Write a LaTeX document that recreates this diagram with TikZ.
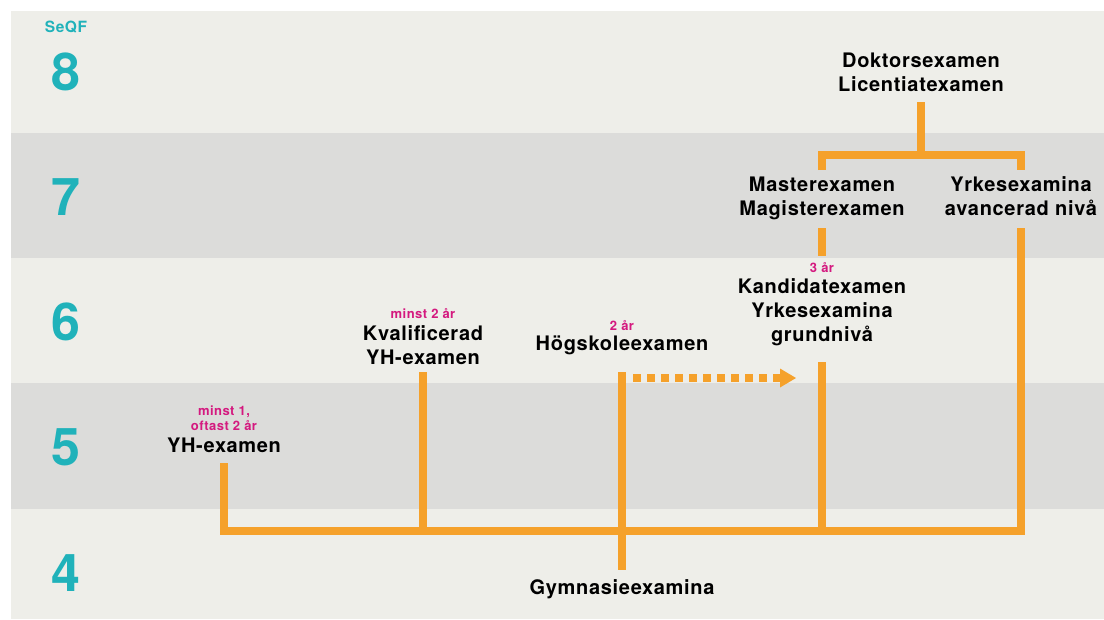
\documentclass[tikz,border=0pt]{standalone}
\usepackage{fontspec}
\setmainfont{TeX Gyre Heros}
\newfontfamily\lblfont[LetterSpace=3.5]{TeX Gyre Heros}
\usetikzlibrary{arrows.meta}
\definecolor{bandA}{HTML}{EEEEE9}
\definecolor{bandB}{HTML}{DCDCDA}
\definecolor{orgline}{HTML}{F5A12B}
\definecolor{seqfcol}{HTML}{20B2BA}
\definecolor{durmag}{HTML}{D4197F}
\begin{document}
\begin{tikzpicture}[x=1pt,y=-1pt,
  lbl/.style={font=\lblfont\bfseries\fontsize{20}{24}\selectfont, align=center, anchor=base, inner sep=0pt},
  dur/.style={font=\lblfont\bfseries\fontsize{13}{15}\selectfont, text=durmag, align=center, anchor=base, inner sep=0pt},
  lvl/.style={font=\bfseries\fontsize{52}{52}\selectfont, text=seqfcol, anchor=base, inner sep=0pt},
  conn/.style={draw=orgline, line width=8.5pt, line join=miter},
  dotarrow/.style={draw=orgline, line width=8pt, dash pattern=on 7.5pt off 6.5pt,
     -{Triangle[length=16pt,width=19pt,line width=0pt]}}
]
\useasboundingbox (0,0) rectangle (1104,619);
\fill[white] (0,0) rectangle (1104,619);
\fill[bandA] (11,11) rectangle (1104,133);
\fill[bandB] (11,133) rectangle (1104,258);
\fill[bandA] (11,258) rectangle (1104,383);
\fill[bandB] (11,383) rectangle (1104,509);
\fill[bandA] (11,509) rectangle (1104,619);

% level column
\node[font=\lblfont\bfseries\fontsize{15.5}{18}\selectfont, text=seqfcol, anchor=base, inner sep=0pt] (seqf) at (66,32) {SeQF};
\node[lvl] (l8) at (66,90.5) {8};
\node[lvl] (l7) at (66,215) {7};
\node[lvl] (l6) at (66,340) {6};
\node[lvl] (l5) at (66,465) {5};
\node[lvl] (l4) at (66,591) {4};

% labels (base = baseline of the last line)
\node[lbl] (dok) at (921,91) {Doktorsexamen\\Licentiatexamen};
\node[lbl] (mas) at (822,215) {Masterexamen\\Magisterexamen};
\node[lbl] (yav) at (1021,215) {Yrkesexamina\\avancerad nivå};
\node[dur] (d3) at (822,272) {3 år};
\node[lbl] (kan) at (822,341) {Kandidatexamen\\Yrkesexamina\\grundnivå};
\node[dur] (d2) at (622,330) {2 år};
\node[lbl] (hog) at (622,350) {Högskoleexamen};
\node[dur] (dm2) at (423,318) {minst 2 år};
\node[lbl] (kva) at (423,364) {Kvalificerad\\YH-examen};
\node[dur] (dm1) at (224,430) {minst 1,\\oftast 2 år};
\node[lbl] (yh) at (224,452) {YH-examen};
\node[lbl] (gym) at (622,594) {Gymnasieexamina};

% connector points
\coordinate (yhA) at (224,463);
\coordinate (yhB) at (224,531);
\coordinate (rB) at (1021,531);
\coordinate (rT) at (1021,228);
\coordinate (kvA) at (423,372);
\coordinate (kvB) at (423,531);
\coordinate (gyA) at (622,372);
\coordinate (gyB) at (622,570);
\coordinate (kaA) at (822,362);
\coordinate (kaB) at (822,531);
\coordinate (maA) at (822,228);
\coordinate (maB) at (822,256);
\coordinate (doA) at (921,102);
\coordinate (doB) at (921,155);
\coordinate (brL) at (822,170);
\coordinate (brLt) at (822,155);
\coordinate (brRt) at (1021,155);
\coordinate (brR) at (1021,170);
\coordinate (arA) at (633,378);
\coordinate (arB) at (796,378);

% connectors
\draw[conn] (yhA) -- (yhB) -- (rB) -- (rT);
\draw[conn] (kvA) -- (kvB);
\draw[conn] (gyA) -- (gyB);
\draw[conn] (kaA) -- (kaB);
\draw[conn] (maA) -- (maB);
\draw[conn] (doA) -- (doB);
\draw[conn] (brL) -- (brLt) -- (brRt) -- (brR);
\draw[dotarrow] (arA) -- (arB);
\end{tikzpicture}
\end{document}
